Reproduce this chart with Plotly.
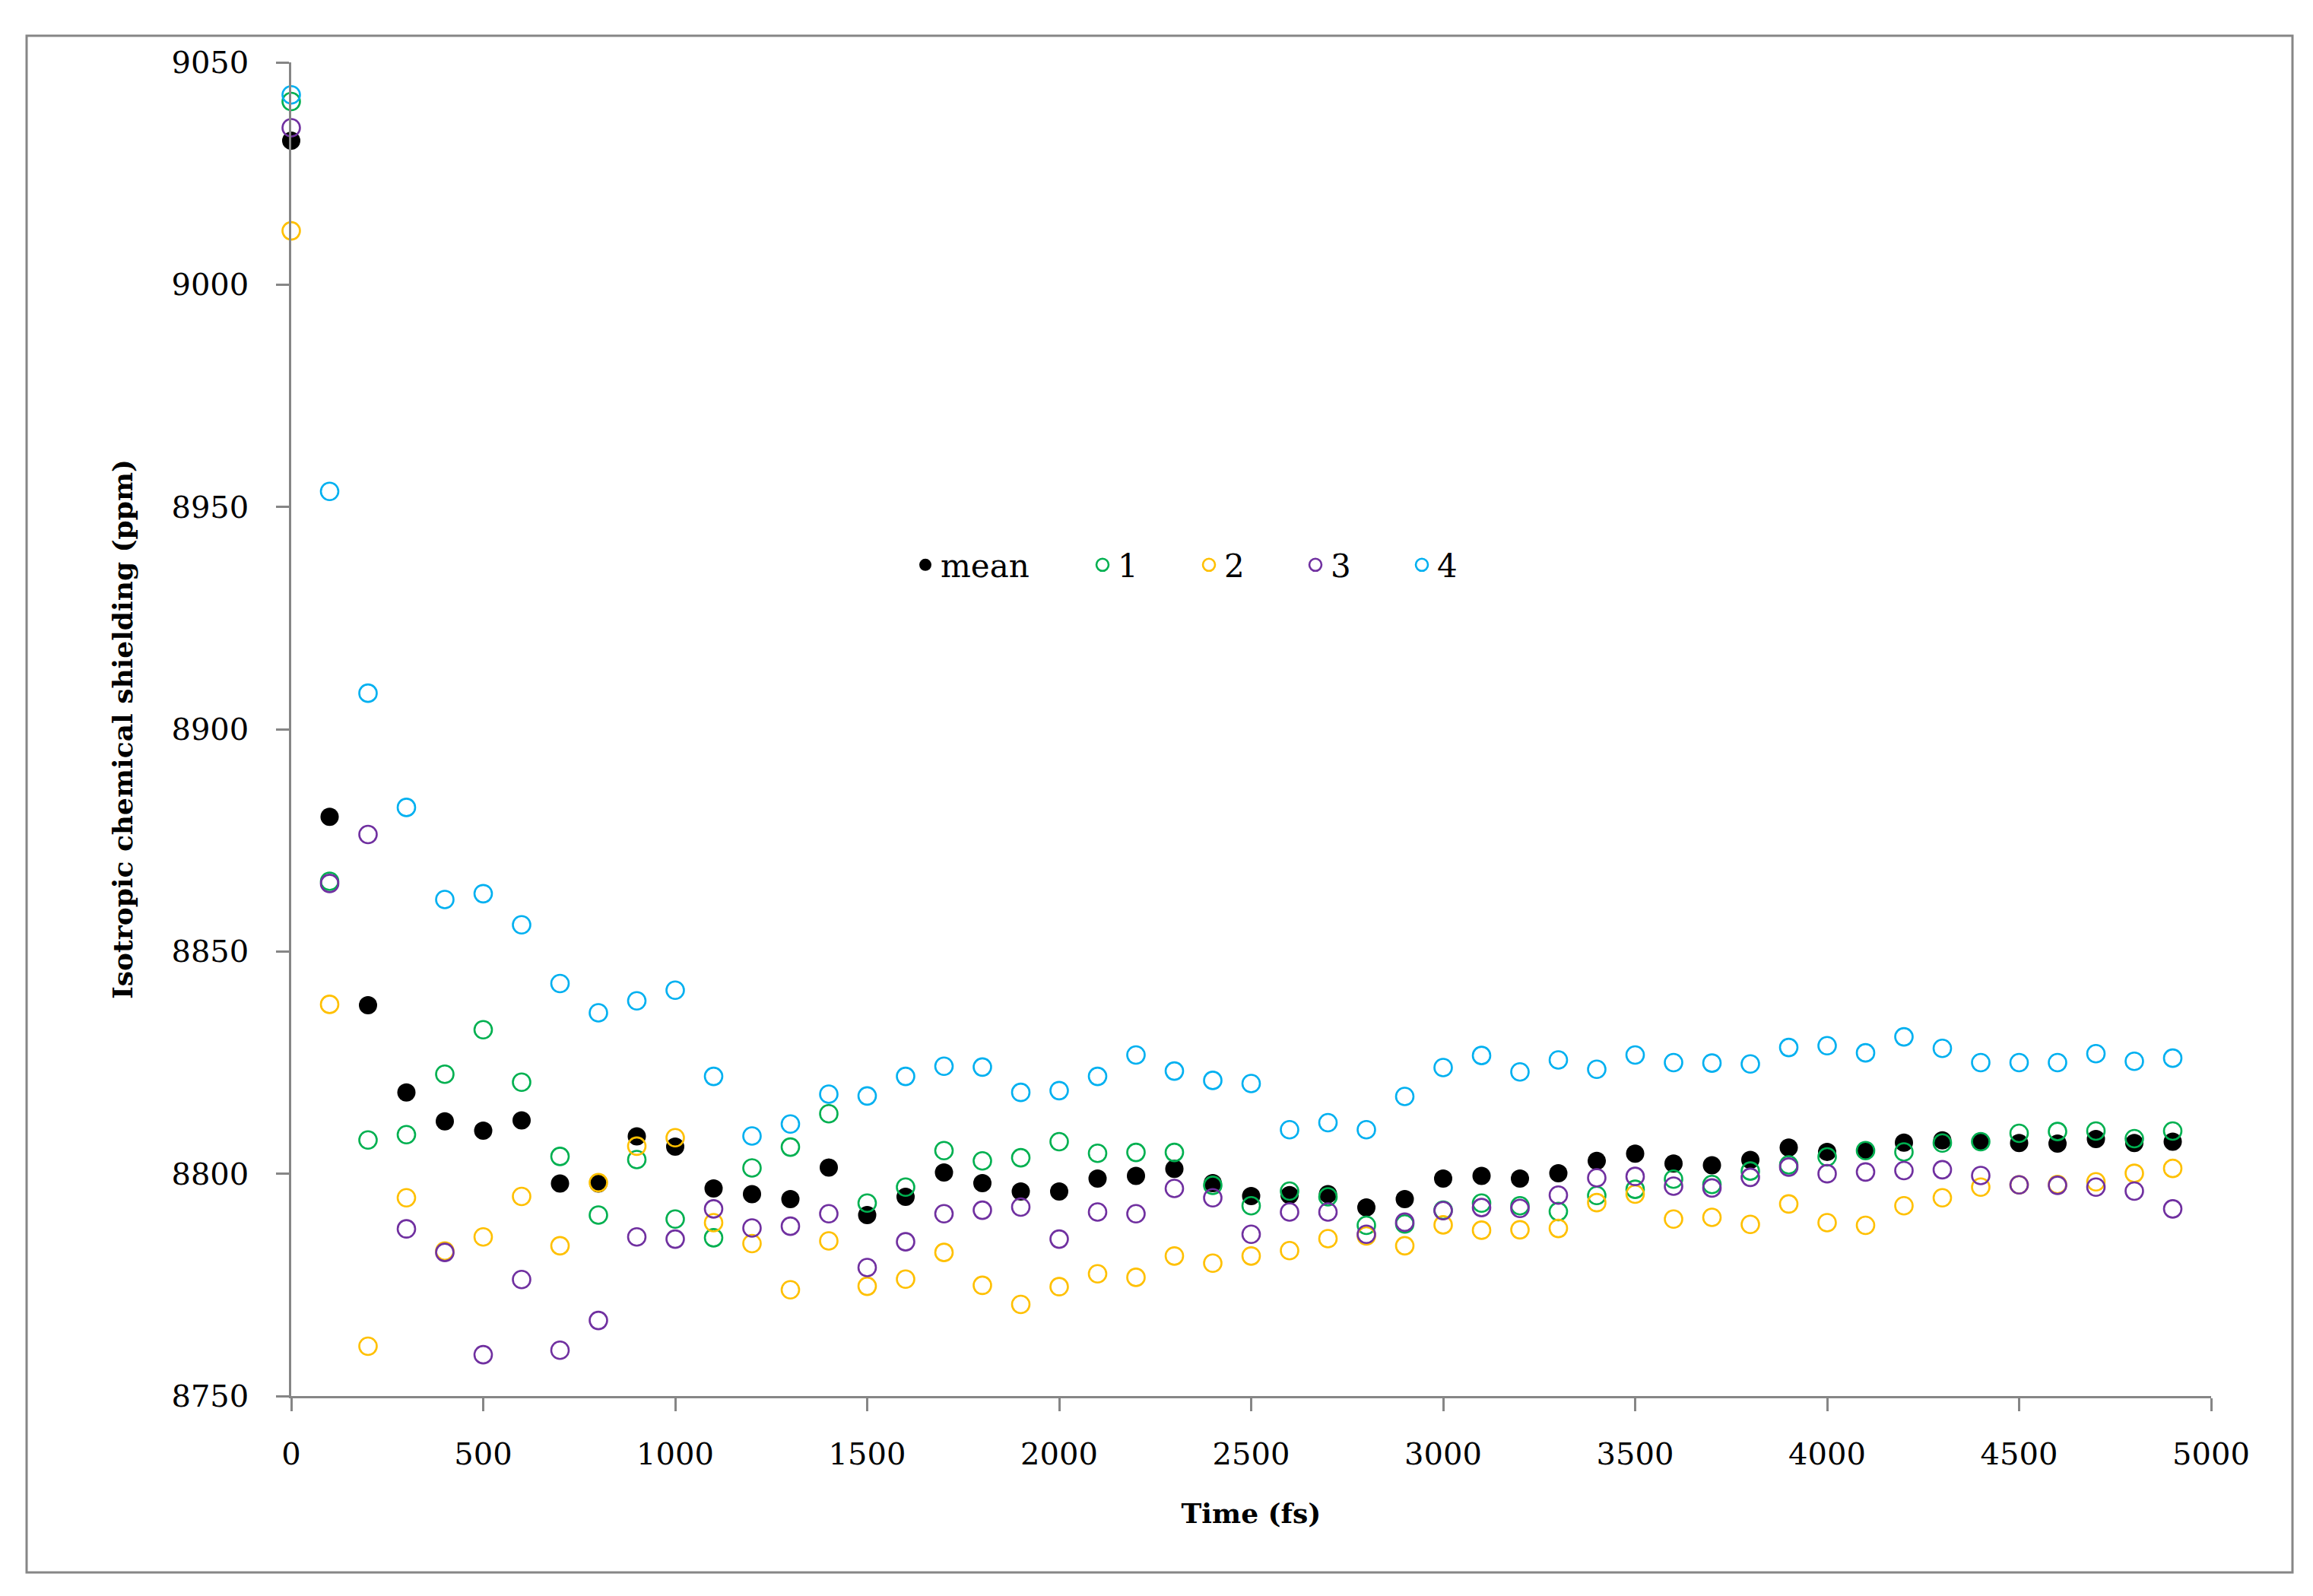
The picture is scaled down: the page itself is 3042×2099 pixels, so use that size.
import plotly.graph_objects as go

# ---- data ----
time_fs = [0, 100, 200, 300, 400, 500, 600, 700, 800, 900,
           1000, 1100, 1200, 1300, 1400, 1500, 1600, 1700, 1800, 1900,
           2000, 2100, 2200, 2300, 2400, 2500, 2600, 2700, 2800, 2900,
           3000, 3100, 3200, 3300, 3400, 3500, 3600, 3700, 3800, 3900,
           4000, 4100, 4200, 4300, 4400, 4500, 4600, 4700, 4800, 4900]

mean_vals = [9032.4, 8880.3, 8837.9, 8818.3, 8811.8, 8809.7, 8812.0, 8797.8, 8797.8, 8808.4,
             8806.1, 8796.7, 8795.4, 8794.3, 8801.4, 8790.7, 8794.8, 8800.3, 8797.9, 8796.0,
             8796.0, 8798.9, 8799.5, 8801.1, 8797.9, 8795.0, 8795.2, 8795.4, 8792.4, 8794.3,
             8798.9, 8799.5, 8798.9, 8800.1, 8802.9, 8804.5, 8802.3, 8801.9, 8803.1, 8805.9,
             8804.9, 8805.2, 8807.0, 8807.5, 8807.2, 8806.9, 8806.8, 8807.8, 8806.9, 8807.2]

run1 = [9041.2, 8865.8, 8807.6, 8808.8, 8822.4, 8832.4, 8820.6, 8803.9, 8790.7, 8803.2,
        8789.8, 8785.6, 8801.3, 8806.0, 8813.5, 8793.4, 8797.0, 8805.2, 8802.9, 8803.6,
        8807.2, 8804.6, 8804.8, 8804.8, 8797.4, 8792.8, 8796.1, 8794.8, 8788.4, 8788.7,
        8791.8, 8793.4, 8792.8, 8791.5, 8795.1, 8796.5, 8798.8, 8797.6, 8800.6, 8802.0,
        8803.8, 8805.2, 8804.9, 8806.9, 8807.2, 8809.1, 8809.5, 8809.6, 8807.9, 8809.6]

run2 = [9012.1, 8838.1, 8761.2, 8794.6, 8782.6, 8785.8, 8794.9, 8783.8, 8798.0, 8806.2,
        8808.1, 8789.0, 8784.3, 8773.9, 8784.9, 8774.7, 8776.3, 8782.3, 8774.9, 8770.6,
        8774.6, 8777.5, 8776.7, 8781.5, 8779.9, 8781.5, 8782.7, 8785.4, 8786.0, 8783.8,
        8788.5, 8787.3, 8787.4, 8787.7, 8793.5, 8795.4, 8789.8, 8790.2, 8788.6, 8793.2,
        8789.0, 8788.4, 8792.8, 8794.6, 8797.0, 8797.5, 8797.6, 8798.2, 8800.1, 8801.2]

run3 = [9035.3, 8865.3, 8876.3, 8787.6, 8782.3, 8759.3, 8776.2, 8760.3, 8767.0, 8785.8,
        8785.3, 8792.1, 8787.8, 8788.2, 8791.0, 8778.9, 8784.7, 8791.0, 8791.8, 8792.5,
        8785.3, 8791.4, 8791.0, 8796.7, 8794.6, 8786.4, 8791.4, 8791.4, 8786.4, 8789.1,
        8791.7, 8792.4, 8792.2, 8795.2, 8799.1, 8799.4, 8797.2, 8796.8, 8799.2, 8801.5,
        8800.0, 8800.4, 8800.7, 8800.9, 8799.6, 8797.5, 8797.4, 8797.0, 8796.1, 8792.1]

run4 = [9042.7, 8953.5, 8908.1, 8882.4, 8861.7, 8863.0, 8856.0, 8842.8, 8836.2, 8838.9,
        8841.3, 8821.9, 8808.5, 8811.2, 8817.9, 8817.5, 8821.9, 8824.2, 8824.0, 8818.3,
        8818.7, 8821.9, 8826.7, 8823.1, 8821.0, 8820.3, 8809.9, 8811.5, 8809.9, 8817.4,
        8823.9, 8826.6, 8822.9, 8825.6, 8823.5, 8826.7, 8825.0, 8824.9, 8824.7, 8828.4,
        8828.8, 8827.2, 8830.8, 8828.2, 8825.0, 8825.0, 8825.0, 8827.0, 8825.3, 8826.0]

series_names = ["mean", "1", "2", "3", "4"]
x_tick_vals = [0, 500, 1000, 1500, 2000, 2500, 3000, 3500, 4000, 4500, 5000]
y_tick_vals = [8750, 8800, 8850, 8900, 8950, 9000, 9050]

# ---- styling ----
W, H = 3042, 2099
ML, MR, MT, MB = 375, 142, 74, 271
PW, PH = W - ML - MR, H - MT - MB
FONT = "DejaVu Serif"
AXIS_GRAY = "#868686"
colors = ["#000000", "#00B050", "#FFC000", "#7030A0", "#00B0F0"]
all_series = [mean_vals, run1, run2, run3, run4]

# legend marker centres (px) in the reference and vertical centre
legend_px = [1211, 1444, 1584, 1724, 1864]
legend_y_px = 735

def px_to_paper_x(px):
    return (px - ML) / PW

def px_to_paper_y(py):
    return (H - MB - py) / PH

fig = go.Figure()
for i, (name, vals, col) in enumerate(zip(series_names, all_series, colors)):
    legend_id = "legend" if i == 0 else f"legend{i + 1}"
    if i == 0:
        marker = dict(symbol="circle", size=24, color=col, line=dict(width=0))
    else:
        marker = dict(symbol="circle-open", size=23, color=col, line=dict(width=2.6, color=col))
    fig.add_trace(go.Scatter(
        x=time_fs, y=vals, mode="markers", name=name, marker=marker,
        cliponaxis=False, legend=legend_id,
    ))

legend_common = dict(
    orientation="h", xanchor="left", yanchor="middle",
    bgcolor="rgba(0,0,0,0)", borderwidth=0,
    font=dict(family=FONT, size=42, color="black"),
)
layout_legends = {}
for i, cx in enumerate(legend_px):
    key = "legend" if i == 0 else f"legend{i + 1}"
    layout_legends[key] = dict(legend_common, x=px_to_paper_x(cx - 22), y=px_to_paper_y(legend_y_px))

fig.update_layout(
    width=W, height=H,
    margin=dict(l=ML, r=MR, t=MT, b=MB, pad=0),
    paper_bgcolor="white", plot_bgcolor="white",
    font=dict(family=FONT, size=40, color="black"),
    showlegend=True,
    **layout_legends,
    xaxis=dict(
        range=[0, 5000], tickmode="array", tickvals=x_tick_vals,
        ticks="outside", ticklen=17, tickwidth=2.5, tickcolor=AXIS_GRAY,
        showline=True, linecolor=AXIS_GRAY, linewidth=2.5,
        showgrid=False, zeroline=False,
        tickfont=dict(family=FONT, size=40, color="black"),
        ticklabelstandoff=22,
        title=dict(text="Time (fs)", font=dict(family=FONT, size=36, color="black", weight="bold"), standoff=45),
    ),
    yaxis=dict(
        range=[8750, 9050], tickmode="array", tickvals=y_tick_vals,
        ticks="outside", ticklen=17, tickwidth=2.5, tickcolor=AXIS_GRAY,
        showline=True, linecolor=AXIS_GRAY, linewidth=2.5,
        showgrid=False, zeroline=False,
        tickfont=dict(family=FONT, size=40, color="black"),
        ticklabelstandoff=28,
        title=dict(text="Isotropic chemical shielding (ppm)", font=dict(family=FONT, size=36, color="black", weight="bold"), standoff=40),
    ),
    shapes=[dict(
        type="rect", xref="paper", yref="paper",
        x0=px_to_paper_x(27), x1=px_to_paper_x(3007),
        y0=px_to_paper_y(2060), y1=px_to_paper_y(39),
        line=dict(color=AXIS_GRAY, width=3), fillcolor="rgba(0,0,0,0)", layer="below",
    )],
)

fig.write_html("out.html")
